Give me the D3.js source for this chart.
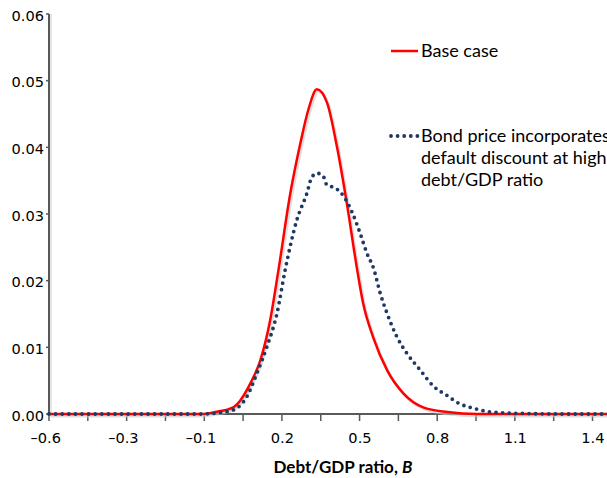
<!DOCTYPE html>
<html lang="en">
  <head>
    <meta charset="UTF-8" />
    <title>Debt/GDP ratio distribution</title>
    <style>
      body {
        margin: 0;
        background: #fff;
      }
      .tickLabel {
        font-family: "DejaVu Sans", sans-serif;
        font-size: 14.6px;
        fill: #000;
      }
      .axisLine {
        stroke: #595959;
        stroke-width: 2px;
        fill: none;
      }
      .tick {
        stroke: #595959;
        stroke-width: 1.5px;
      }
      .baseLine {
        fill: none;
        stroke: #ff0000;
        stroke-width: 2.5px;
        stroke-linejoin: round;
      }
      .baseShadow {
        fill: none;
        stroke: #c8c8c8;
        stroke-width: 3px;
        opacity: 0.6;
      }
      .bondLine {
        fill: none;
        stroke: #1f3864;
        stroke-width: 3.8px;
        stroke-linecap: round;
        stroke-dasharray: 0 6.6;
      }
      .legendText {
        font-family: Lato, "Open Sans", sans-serif;
        font-size: 18px;
        fill: #000;
      }
      .axisTitle {
        font-family: Lato, "Open Sans", sans-serif;
        font-size: 17px;
        font-weight: bold;
        fill: #000;
      }
    </style>
  </head>

  <body>
    <div id="chart"></div>

    <script src="https://cdn.jsdelivr.net/npm/d3@7"></script>
    <script>
    // base case (red solid)
    var baseX = [-0.6, -0.2, -0.04, 0.012, 0.078, 0.141, 0.178, 0.214, 0.244, 0.288, 0.325, 0.354, 0.386,
                 0.423, 0.46, 0.496, 0.533, 0.556, 0.593, 0.645, 0.704, 0.777, 0.866, 0.976, 1.2, 1.46];
    var baseY = [0, 0, 0, 0.0003, 0.001, 0.0046, 0.0081, 0.0141, 0.0215, 0.0331, 0.0406, 0.0456, 0.0487,
                 0.0467, 0.04, 0.0316, 0.0219, 0.0166, 0.0115, 0.0065, 0.0031, 0.001, 0.0003, 0, 0, 0];

    // bond price incorporates default discount (dotted)
    var bondX = [-0.6, -0.2, -0.043, 0.03, 0.078, 0.128, 0.165, 0.202, 0.239, 0.269, 0.312, 0.349, 0.368,
                 0.388, 0.41, 0.423, 0.447, 0.472, 0.49, 0.515, 0.545, 0.57, 0.594, 0.619, 0.644, 0.68,
                 0.717, 0.766, 0.814, 0.864, 0.913, 0.95, 0.987, 1.024, 1.123, 1.3, 1.46];
    var bondY = [0, 0, 0, 0.0002, 0.0006, 0.0026, 0.0061, 0.0101, 0.0151, 0.0216, 0.0291, 0.0331, 0.0356,
                 0.0361, 0.0356, 0.0343, 0.034, 0.0333, 0.0323, 0.0303, 0.0271, 0.0241, 0.0219, 0.0181, 0.0151, 0.0116,
                 0.0091, 0.0066, 0.0042, 0.0028, 0.0015, 0.001, 0.0006, 0.0003, 0.0001, 0, 0];

    var xTickLabels = ["\u20130.6", "\u20130.3", "\u20130.1", "0.2", "0.5", "0.8", "1.1", "1.4"];
    var yTicks = [0, 0.01, 0.02, 0.03, 0.04, 0.05, 0.06];
    var seriesNames = ["Base case", "Bond price incorporates\ndefault discount at high\ndebt/GDP ratio"];

    var w = 607,
        h = 478;
    var margin = {
      top: 14,
      left: 49,
      bottom: 64
    };

    var svg = d3.select("#chart").append("svg")
       .attr("width", w)
       .attr("height", h);

    var xScale = d3.scaleLinear()
                   .domain([-0.6, 1.4])
                   .range([margin.left, 592.5]);
    var yScale = d3.scaleLinear()
                   .domain([0, 0.06])
                   .range([h - margin.bottom, margin.top]);

    var baseData = baseX.map(function(d, i) { return {x: d, y: baseY[i]}; });
    var bondData = bondX.map(function(d, i) { return {x: d, y: bondY[i]}; });

//tick positions: one label every second tick
    var step = 2 / 7;
    var minorTicks = d3.range(15).map(function(i) { return -0.6 + i * step / 2; });
    var majorTicks = xTickLabels.map(function(d, i) { return -0.6 + i * step; });

//x ticks
    svg.selectAll(".xtick")
       .data(minorTicks)
       .enter().append("line")
       .attr("class", "tick")
       .attr("x1", function(d) { return xScale(d); })
       .attr("x2", function(d) { return xScale(d); })
       .attr("y1", yScale(0))
       .attr("y2", yScale(0) + 7);

    svg.selectAll(".xlabel")
       .data(majorTicks)
       .enter().append("text")
       .attr("class", "tickLabel")
       .attr("text-anchor", "end")
       .attr("x", function(d) { return xScale(d) + 12; })
       .attr("y", yScale(0) + 29)
       .text(function(d, i) { return xTickLabels[i]; });

//y ticks
    svg.selectAll(".ytick")
       .data(yTicks)
       .enter().append("line")
       .attr("class", "tick")
       .attr("x1", margin.left - 3)
       .attr("x2", margin.left)
       .attr("y1", function(d) { return yScale(d); })
       .attr("y2", function(d) { return yScale(d); });

    svg.selectAll(".ylabel")
       .data(yTicks)
       .enter().append("text")
       .attr("class", "tickLabel")
       .attr("text-anchor", "end")
       .attr("dominant-baseline", "central")
       .attr("x", margin.left - 5)
       .attr("y", function(d) { return yScale(d) + 1; })
       .text(function(d) { return d3.format(".2f")(d); });

//axis lines
    svg.append("line")
       .attr("x1", margin.left + 2)
       .attr("x2", margin.left + 2)
       .attr("y1", yScale(0.06))
       .attr("y2", yScale(0))
       .attr("stroke", "#dcdcdc")
       .attr("stroke-width", 1.5);
    svg.append("line")
       .attr("class", "axisLine")
       .attr("x1", margin.left)
       .attr("x2", margin.left)
       .attr("y1", yScale(0.06))
       .attr("y2", yScale(0) + 1);
    svg.append("line")
       .attr("class", "axisLine")
       .attr("x1", margin.left)
       .attr("x2", w)
       .attr("y1", yScale(0))
       .attr("y2", yScale(0));

//curves
    var line = d3.line()
                 .x(function(d) { return xScale(d.x); })
                 .y(function(d) { return yScale(d.y); })
                 .curve(d3.curveMonotoneX);

    svg.append("path")
       .datum(baseData)
       .attr("class", "baseShadow")
       .attr("transform", "translate(1.5,2)")
       .attr("d", line);
    svg.append("path")
       .datum(baseData)
       .attr("class", "baseLine")
       .attr("d", line);
    svg.append("path")
       .datum(bondData)
       .attr("class", "bondLine")
       .attr("d", line);

//legend
    svg.append("line")
       .attr("class", "baseLine")
       .attr("x1", 391)
       .attr("x2", 418)
       .attr("y1", 51)
       .attr("y2", 51);
    svg.append("text")
       .attr("class", "legendText")
       .attr("x", 421)
       .attr("y", 57)
       .text(seriesNames[0]);

    svg.append("line")
       .attr("class", "bondLine")
       .attr("x1", 391)
       .attr("x2", 418)
       .attr("y1", 136)
       .attr("y2", 136);
    svg.append("text")
       .attr("class", "legendText")
       .attr("x", 421)
       .attr("y", 142)
       .selectAll("tspan")
       .data(seriesNames[1].split("\n"))
       .enter().append("tspan")
       .attr("x", 421)
       .attr("dy", function(d, i) { return i === 0 ? 0 : 22; })
       .text(function(d) { return d; });

//axis title
    var title = svg.append("text")
       .attr("class", "axisTitle")
       .attr("text-anchor", "middle")
       .attr("x", 343)
       .attr("y", 473);
    title.append("tspan").text("Debt/GDP ratio, ");
    title.append("tspan").attr("font-style", "italic").text("B");

    </script>
  </body>
</html>
